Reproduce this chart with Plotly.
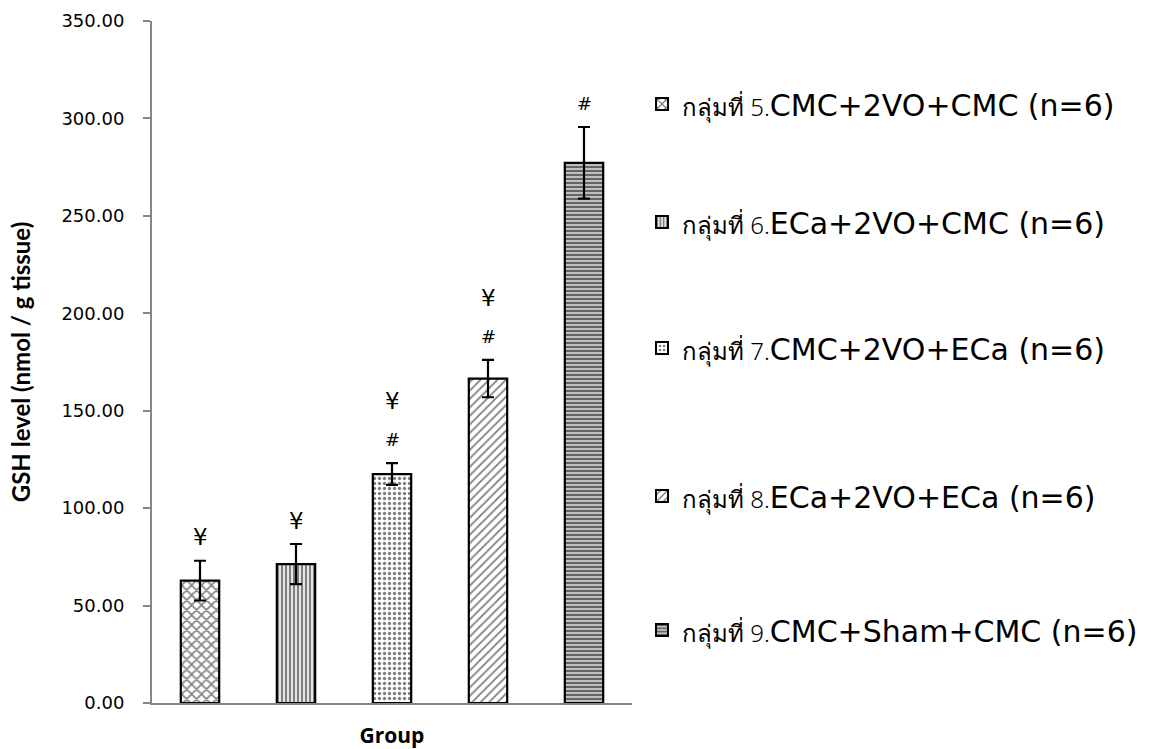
import plotly.graph_objects as go

# GSH level per group (mean ± SEM)
groups = ["G5", "G6", "G7", "G8", "G9"]
thai_prefix = ["กลุ่มที่ 5.", "กลุ่มที่ 6.", "กลุ่มที่ 7.", "กลุ่มที่ 8.", "กลุ่มที่ 9."]
treatments = ["CMC+2VO+CMC (n=6)", "ECa+2VO+CMC (n=6)", "CMC+2VO+ECa (n=6)",
              "ECa+2VO+ECa (n=6)", "CMC+Sham+CMC (n=6)"]
gsh_mean = [62.8, 71.3, 117.5, 166.5, 277.2]
gsh_sem = [10.2, 10.3, 5.6, 9.6, 18.4]
sig_marks = [["¥"], ["¥"], ["#", "¥"], ["#", "¥"], ["#"]]

y_ticks = [0, 50, 100, 150, 200, 250, 300, 350]

patterns = [
    dict(shape="x", size=7, solidity=0.4, fgcolor="#000000", bgcolor="#ffffff"),
    dict(shape="|", size=4, solidity=0.6, fgcolor="#000000", bgcolor="#ffffff"),
    dict(shape=".", size=5, solidity=0.35, fgcolor="#000000", bgcolor="#ffffff"),
    dict(shape="/", size=6, solidity=0.3, fgcolor="#000000", bgcolor="#ffffff"),
    dict(shape="-", size=4, solidity=0.55, fgcolor="#000000", bgcolor="#c8c8c8"),
]

legend_y = [104, 222, 348, 496, 630]  # pixel rows of each legend entry

W, H = 1151, 749
ML, MR, MT, MB = 152, 519, 21, 46
plot_h = H - MT - MB

fig = go.Figure()
for i, g in enumerate(groups):
    lname = "legend" if i == 0 else f"legend{i + 1}"
    fig.add_trace(go.Bar(
        x=[g], y=[gsh_mean[i]],
        name=(f"<span style='font-family:\"Noto Sans\";font-size:24px;font-weight:300'>{thai_prefix[i]}</span>"
              f"<span style='font-size:30px'>{treatments[i]}</span>"),
        width=0.4,
        marker=dict(color="#ffffff", pattern=patterns[i],
                    line=dict(color="#000000", width=2.2)),
        error_y=dict(type="data", array=[gsh_sem[i]], visible=True,
                     color="#000000", thickness=2.2, width=6),
        legend=lname,
        showlegend=True,
    ))

# significance symbols stacked above each error bar
annotations = []
for i, g in enumerate(groups):
    base = gsh_mean[i] + gsh_sem[i]
    for k, s in enumerate(sig_marks[i]):
        annotations.append(dict(
            x=g, y=base + 12 + k * 20, xref="x", yref="y",
            text=s, showarrow=False, yanchor="middle",
            font=dict(family="DejaVu Sans", size=18 if s == "#" else 23, color="#000000"),
        ))

layout_legends = {}
for i, py in enumerate(legend_y):
    lname = "legend" if i == 0 else f"legend{i + 1}"
    layout_legends[lname] = dict(
        x=(642 - ML) / (W - ML - MR), xanchor="left",
        y=(H - MB - py) / plot_h, yanchor="middle",
        bgcolor="rgba(0,0,0,0)", borderwidth=0,
        font=dict(family="DejaVu Sans", size=30, color="#000000"),
        itemsizing="constant",
    )

fig.update_layout(
    width=W, height=H,
    margin=dict(l=ML, r=MR, t=MT, b=MB, autoexpand=False),
    paper_bgcolor="#ffffff", plot_bgcolor="#ffffff",
    bargap=0.6,
    annotations=annotations,
    xaxis=dict(
        automargin=False,
        showticklabels=False, ticks="", showgrid=False,
        showline=True, linecolor="#868686", linewidth=2,
        title=dict(text="<b>Group</b>", font=dict(family="Open Sans", size=21, color="#000000"),
                   standoff=24),
    ),
    yaxis=dict(
        automargin=False,
        range=[0, 350], tickvals=y_ticks, tickformat=".2f",
        showgrid=False, zeroline=False,
        showline=True, linecolor="#868686", linewidth=2,
        ticks="outside", ticklen=7, tickcolor="#868686", tickwidth=2,
        ticklabelstandoff=15,
        tickfont=dict(family="DejaVu Sans", size=18, color="#000000"),
        title=dict(text="<b>GSH level (nmol / g tissue)</b>",
                   font=dict(family="Lato", size=24, color="#000000"), standoff=24),
    ),
    **layout_legends,
)

fig.write_html("out.html")
